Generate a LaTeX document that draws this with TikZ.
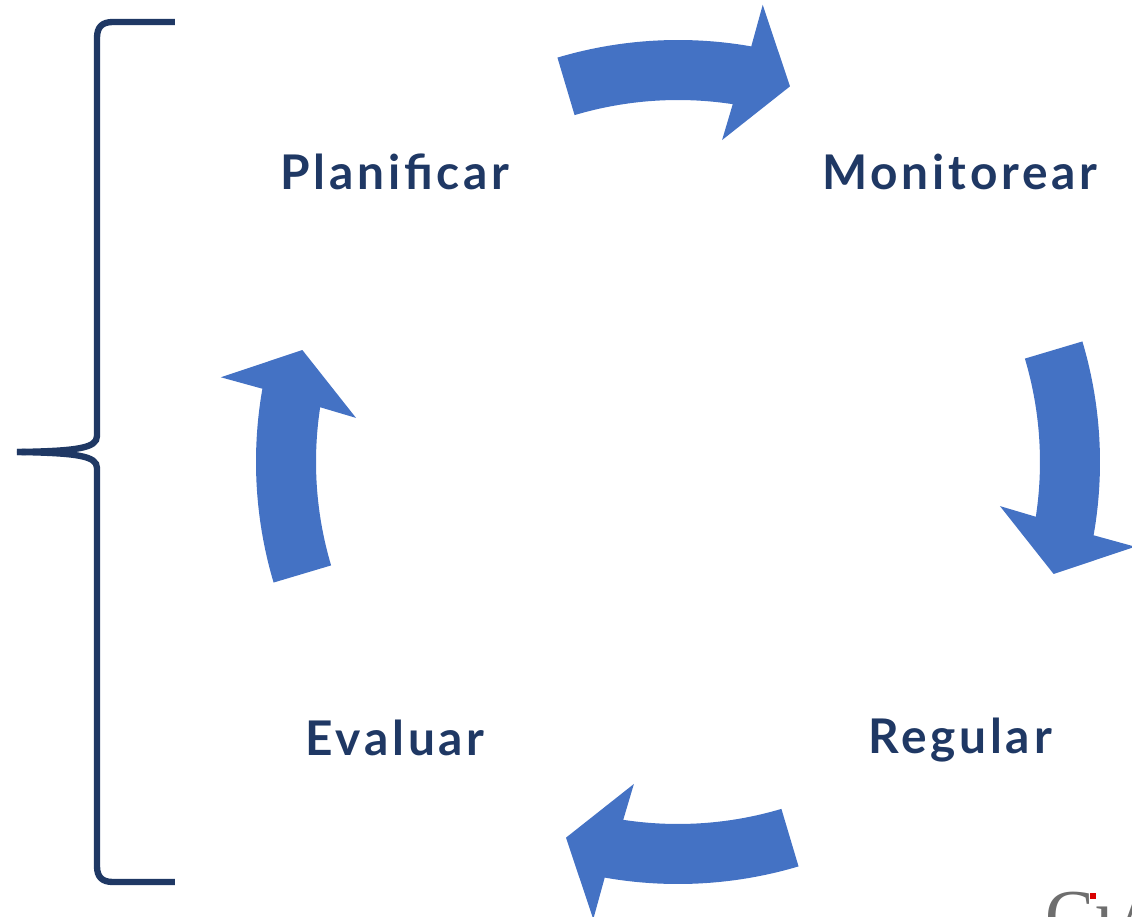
\documentclass[tikz,border=0pt]{standalone}
\usepackage{fontspec}
\setmainfont{Lato}
\setsansfont{Lato}
\newfontfamily\logofont{Liberation Serif}
\usepackage{tikz}
\usetikzlibrary{calc}

\definecolor{navy}{HTML}{1F3864}
\definecolor{cycleblue}{HTML}{4472C4}
\definecolor{logogray}{HTML}{6E6E6E}

\begin{document}
\begin{tikzpicture}[x=0.025cm,y=0.025cm,
	step label/.style={text=navy,font=\fontsize{34}{36}\selectfont\bfseries\addfontfeatures{LetterSpace=8},inner sep=0pt}]
		\useasboundingbox (-678,-454) rectangle (454,462);
		\coordinate (c) at (0,0);
		
		%cycle arrows
		\foreach \i in {0,1,2,3}{
			\begin{scope}[rotate around={-\i*90:(c)}]
			\fill[cycleblue] (106.6:422) arc[radius=422,start angle=106.6,end angle=80] -- (79.5:465) -- (73.4:392) -- (82.2:325) -- (81.3:362) arc[radius=362,start angle=81.3,end angle=106.6] -- cycle;
			\end{scope}
		}
		
		%labels
		\node[step label] (plan) at (-283,290) {Planificar};
		\node[step label] (moni) at (282,290) {Monitorear};
		\node[step label] (regu) at (282,-278) {Regular};
		\node[step label] (eval) at (-283,-276) {Evaluar};
		
		%brace
		\draw[navy,line width=4.5] (-503,440) -- (-565,440) .. controls (-576,440) and (-581,435) .. (-581,424) -- (-581,26) .. controls (-581,14) and (-600,11) .. (-661,10);
		\draw[navy,line width=4.5] (-661,10) .. controls (-600,9) and (-581,6) .. (-581,-6) -- (-581,-404) .. controls (-581,-415) and (-576,-420) .. (-565,-420) -- (-503,-420);
		
		%logo
		\node[anchor=north west,inner sep=0pt,text=logogray,font=\logofont\fontsize{52}{52}\selectfont] (logo) at (367,-430) {C\i A};
		\fill[red!85!black] (412,-431) rectangle (418,-437);
		
\end{tikzpicture}
\end{document}
